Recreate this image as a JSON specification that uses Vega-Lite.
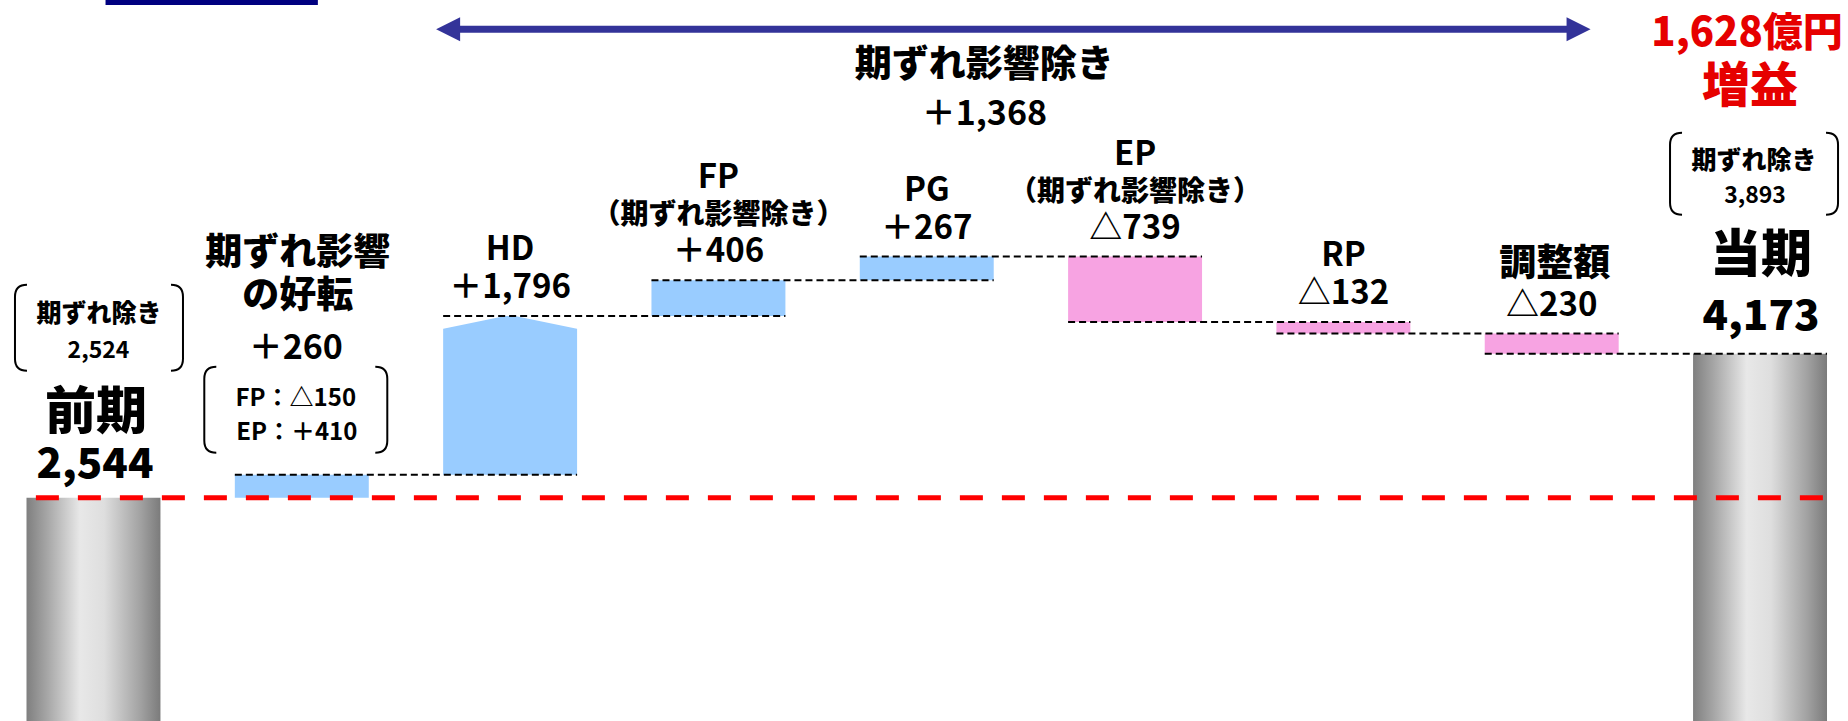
{
  "$schema": "https://vega.github.io/schema/vega-lite/v6.json",
  "width": 1848,
  "height": 721,
  "autosize": {"type": "none"},
  "padding": 0,
  "background": "white",
  "config": {"view": {"stroke": null}},
  "datasets": {
    "bars": [
      {"cat": "前期", "lo": 0, "hi": 2544, "kind": "base"},
      {"cat": "期ずれ影響の好転", "lo": 2544, "hi": 2804, "kind": "up"},
      {"cat": "HD", "lo": 2804, "hi": 4600, "kind": "up"},
      {"cat": "FP", "lo": 4600, "hi": 5006, "kind": "up"},
      {"cat": "PG", "lo": 5006, "hi": 5273, "kind": "up"},
      {"cat": "EP", "lo": 4534, "hi": 5273, "kind": "down"},
      {"cat": "RP", "lo": 4402, "hi": 4534, "kind": "down"},
      {"cat": "調整額", "lo": 4173, "hi": 4402, "kind": "down"},
      {"cat": "当期", "lo": 0, "hi": 4173, "kind": "base"}
    ],
    "links": [
      {"from": "期ずれ影響の好転", "to": "HD", "level": 2804},
      {"from": "HD", "to": "FP", "level": 4600},
      {"from": "FP", "to": "PG", "level": 5006},
      {"from": "PG", "to": "EP", "level": 5273},
      {"from": "EP", "to": "RP", "level": 4534},
      {"from": "RP", "to": "調整額", "level": 4402},
      {"from": "調整額", "to": "当期", "level": 4173}
    ],
    "base": [{"from": "前期", "to": "当期", "level": 2544}],
    "span": [{"from": "HD", "to": "調整額", "title": "期ずれ影響除き", "delta": "＋1,368"}],
    "labels": [
      {"cat": "HD", "role": "val", "text": "＋1,796"},
      {"cat": "FP", "role": "val", "text": "＋406"},
      {"cat": "PG", "role": "val", "text": "＋267"},
      {"cat": "EP", "role": "val", "text": "△739"},
      {"cat": "RP", "role": "val", "text": "△132"},
      {"cat": "調整額", "role": "val", "text": "△230"},
      {"cat": "HD", "role": "name", "text": "HD"},
      {"cat": "PG", "role": "name", "text": "PG"},
      {"cat": "RP", "role": "name", "text": "RP"},
      {"cat": "調整額", "role": "namej", "text": "調整額"},
      {"cat": "FP", "role": "sub", "text": "（期ずれ影響除き）"},
      {"cat": "EP", "role": "sub", "text": "（期ずれ影響除き）"},
      {"cat": "FP", "role": "name2", "text": "FP"},
      {"cat": "EP", "role": "name2", "text": "EP"},
      {"cat": "期ずれ影響の好転", "role": "title1", "text": "期ずれ影響"},
      {"cat": "期ずれ影響の好転", "role": "title2", "text": "の好転"},
      {"cat": "期ずれ影響の好転", "role": "delta", "text": "＋260"},
      {"cat": "期ずれ影響の好転", "role": "note1", "text": "FP：△150"},
      {"cat": "期ずれ影響の好転", "role": "note2", "text": "EP：＋410"},
      {"cat": "前期", "role": "total", "text": "2,544"},
      {"cat": "当期", "role": "total", "text": "4,173"},
      {"cat": "前期", "role": "period", "text": "前期"},
      {"cat": "当期", "role": "period", "text": "当期"},
      {"cat": "前期", "role": "exl", "text": "期ずれ除き"},
      {"cat": "当期", "role": "exl", "text": "期ずれ除き"},
      {"cat": "前期", "role": "exv", "text": "2,524"},
      {"cat": "当期", "role": "exv", "text": "3,893"},
      {"cat": "当期", "role": "gain1", "text": "1,628億円"},
      {"cat": "当期", "role": "gain2", "text": "増益"}
    ]
  },
  "layer": [
    {
      "data": {"name": "bars"},
      "transform": [{"filter": "datum.kind === 'base'"}],
      "mark": {"type": "bar", "stroke": null, "color": {"gradient": "linear", "x1": 0, "y1": 0, "x2": 1, "y2": 0, "stops": [{"offset": 0, "color": "#7f7f7f"}, {"offset": 0.15, "color": "#a5a5a5"}, {"offset": 0.4, "color": "#e8e8e8"}, {"offset": 0.58, "color": "#dedede"}, {"offset": 0.85, "color": "#a2a2a2"}, {"offset": 1, "color": "#7b7b7b"}]}},
      "encoding": {
        "x": {"field": "cat", "type": "nominal", "scale": {"type": "band", "domain": ["前期", "期ずれ影響の好転", "HD", "FP", "PG", "EP", "RP", "調整額", "当期"], "paddingInner": 0.357, "paddingOuter": 0.114, "align": 0.558}, "axis": null},
        "y": {"field": "lo", "type": "quantitative", "scale": {"domain": [20, 8175], "nice": false, "zero": false}, "axis": null},
        "y2": {"field": "hi"}
      }
    },
    {
      "data": {"name": "bars"},
      "transform": [{"filter": "datum.kind !== 'base'"}],
      "mark": {"type": "bar", "stroke": null},
      "encoding": {
        "x": {"field": "cat", "type": "nominal", "axis": null},
        "y": {"field": "lo", "type": "quantitative", "axis": null},
        "y2": {"field": "hi"},
        "color": {"field": "kind", "type": "nominal", "scale": {"domain": ["up", "down"], "range": ["#99CCFF", "#F7A3E2"]}, "legend": null}
      }
    },
    {
      "data": {"name": "bars"},
      "transform": [{"filter": "datum.cat === 'HD'"}],
      "mark": {"type": "point", "shape": "M-68,-1L0,-1L-68,13Z M68,-1L0,-1L68,13Z", "size": 4, "filled": true, "color": "white", "opacity": 1, "strokeWidth": 0},
      "encoding": {
        "x": {"field": "cat", "type": "nominal", "axis": null},
        "y": {"field": "hi", "type": "quantitative", "axis": null}
      }
    },
    {
      "data": {"name": "base"},
      "mark": {"type": "rule", "color": "#FF0000", "strokeWidth": 5, "strokeDash": [23, 19]},
      "encoding": {
        "x": {"field": "from", "type": "nominal", "bandPosition": 0.07, "axis": null},
        "x2": {"field": "to", "bandPosition": 0.98},
        "y": {"field": "level", "type": "quantitative", "axis": null}
      }
    },
    {
      "data": {"name": "links"},
      "mark": {"type": "rule", "color": "#000000", "strokeWidth": 2, "strokeDash": [7, 4]},
      "encoding": {
        "x": {"field": "from", "type": "nominal", "bandPosition": 0, "axis": null},
        "x2": {"field": "to", "bandPosition": 1},
        "y": {"field": "level", "type": "quantitative", "axis": null}
      }
    },
    {
      "data": {"name": "span"},
      "mark": {"type": "rule", "color": "#333399", "strokeWidth": 7},
      "encoding": {
        "x": {"field": "from", "type": "nominal", "bandPosition": 0.05, "axis": null},
        "x2": {"field": "to", "bandPosition": 0.7},
        "y": {"datum": 7844, "type": "quantitative", "axis": null}
      }
    },
    {
      "data": {"name": "span"},
      "mark": {"type": "point", "shape": "M-7,0L17,-12L17,12Z", "size": 4, "filled": true, "color": "#333399", "opacity": 1, "strokeWidth": 0},
      "encoding": {
        "x": {"field": "from", "type": "nominal", "bandPosition": 0, "axis": null},
        "y": {"datum": 7844, "type": "quantitative", "axis": null}
      }
    },
    {
      "data": {"name": "span"},
      "mark": {"type": "point", "shape": "M0,0L-24,-12L-24,12Z", "size": 4, "filled": true, "color": "#333399", "opacity": 1, "strokeWidth": 0},
      "encoding": {
        "x": {"field": "to", "type": "nominal", "bandPosition": 0.79, "axis": null},
        "y": {"datum": 7844, "type": "quantitative", "axis": null}
      }
    },
    {
      "data": {"name": "span"},
      "mark": {"type": "text", "font": "Noto Sans CJK JP", "fontSize": 37, "fontWeight": 900, "baseline": "alphabetic", "color": "#000000"},
      "encoding": {
        "x": {"datum": "PG", "type": "nominal", "bandPosition": 0.93, "axis": null},
        "y": {"datum": 7301, "type": "quantitative", "axis": null},
        "text": {"field": "title"}
      }
    },
    {
      "data": {"name": "span"},
      "mark": {"type": "text", "font": "Noto Sans CJK JP", "fontSize": 34, "fontWeight": "bold", "baseline": "alphabetic", "color": "#000000"},
      "encoding": {
        "x": {"datum": "PG", "type": "nominal", "bandPosition": 0.93, "axis": null},
        "y": {"datum": 6758, "type": "quantitative", "axis": null},
        "text": {"field": "delta"}
      }
    },
    {
      "data": {"name": "base"},
      "mark": {"type": "rule", "color": "#000080", "strokeWidth": 10},
      "encoding": {
        "x": {"field": "from", "type": "nominal", "bandPosition": 0.59, "axis": null},
        "x2": {"datum": "期ずれ影響の好転", "bandPosition": 0.62},
        "y": {"datum": 8175, "type": "quantitative", "axis": null}
      }
    },
    {
      "data": {"name": "bars"},
      "transform": [{"filter": "datum.kind === 'base' || datum.cat === '期ずれ影響の好転'"}],
      "mark": {"type": "point", "size": 4, "filled": false, "stroke": "#000000", "strokeWidth": 2, "opacity": 1},
      "encoding": {
        "x": {"field": "cat", "type": "nominal", "axis": null},
        "y": {"field": "hi", "type": "quantitative", "axis": null},
        "shape": {"field": "cat", "type": "nominal", "legend": null, "scale": {"domain": ["前期", "期ずれ影響の好転", "当期"], "range": ["M-66.5,-213Q-78.5,-213 -78.5,-201L-78.5,-139Q-78.5,-127 -66.5,-127M77.5,-213Q89.5,-213 89.5,-201L89.5,-139Q89.5,-127 77.5,-127", "M-85.5,-108Q-97.5,-108 -97.5,-96L-97.5,-34Q-97.5,-22 -85.5,-22M73.5,-108Q85.5,-108 85.5,-96L85.5,-34Q85.5,-22 73.5,-22", "M-78,-221Q-90,-221 -90,-209L-90,-151Q-90,-139 -78,-139M66,-221Q78,-221 78,-209L78,-151Q78,-139 66,-139"]}}
      }
    },
    {
      "data": {"name": "labels"},
      "transform": [{"filter": "datum.role === 'val'"}, {"lookup": "cat", "from": {"data": {"name": "bars"}, "key": "cat", "fields": ["hi"]}}],
      "mark": {"type": "text", "font": "Noto Sans CJK JP", "fontSize": 33, "fontWeight": "bold", "baseline": "alphabetic", "dy": -18, "color": "#000000"},
      "encoding": {"x": {"field": "cat", "type": "nominal", "axis": null}, "y": {"field": "hi", "type": "quantitative", "axis": null}, "text": {"field": "text"}}
    },
    {
      "data": {"name": "labels"},
      "transform": [{"filter": "datum.role === 'name'"}, {"lookup": "cat", "from": {"data": {"name": "bars"}, "key": "cat", "fields": ["hi"]}}],
      "mark": {"type": "text", "font": "Noto Sans CJK JP", "fontSize": 33, "fontWeight": "bold", "baseline": "alphabetic", "dy": -56, "color": "#000000"},
      "encoding": {"x": {"field": "cat", "type": "nominal", "axis": null}, "y": {"field": "hi", "type": "quantitative", "axis": null}, "text": {"field": "text"}}
    },
    {
      "data": {"name": "labels"},
      "transform": [{"filter": "datum.role === 'namej'"}, {"lookup": "cat", "from": {"data": {"name": "bars"}, "key": "cat", "fields": ["hi"]}}],
      "mark": {"type": "text", "font": "Noto Sans CJK JP", "fontSize": 37, "fontWeight": 900, "baseline": "alphabetic", "dy": -58, "dx": 3, "color": "#000000"},
      "encoding": {"x": {"field": "cat", "type": "nominal", "axis": null}, "y": {"field": "hi", "type": "quantitative", "axis": null}, "text": {"field": "text"}}
    },
    {
      "data": {"name": "labels"},
      "transform": [{"filter": "datum.role === 'sub'"}, {"lookup": "cat", "from": {"data": {"name": "bars"}, "key": "cat", "fields": ["hi"]}}],
      "mark": {"type": "text", "font": "Noto Sans CJK JP", "fontSize": 28, "fontWeight": 900, "baseline": "alphabetic", "dy": -56, "color": "#000000"},
      "encoding": {"x": {"field": "cat", "type": "nominal", "axis": null}, "y": {"field": "hi", "type": "quantitative", "axis": null}, "text": {"field": "text"}}
    },
    {
      "data": {"name": "labels"},
      "transform": [{"filter": "datum.role === 'name2'"}, {"lookup": "cat", "from": {"data": {"name": "bars"}, "key": "cat", "fields": ["hi"]}}],
      "mark": {"type": "text", "font": "Noto Sans CJK JP", "fontSize": 33, "fontWeight": "bold", "baseline": "alphabetic", "dy": -92, "color": "#000000"},
      "encoding": {"x": {"field": "cat", "type": "nominal", "axis": null}, "y": {"field": "hi", "type": "quantitative", "axis": null}, "text": {"field": "text"}}
    },
    {
      "data": {"name": "labels"},
      "transform": [{"filter": "datum.role === 'title1'"}, {"lookup": "cat", "from": {"data": {"name": "bars"}, "key": "cat", "fields": ["hi"]}}],
      "mark": {"type": "text", "font": "Noto Sans CJK JP", "fontSize": 37, "fontWeight": 900, "baseline": "alphabetic", "dy": -210, "dx": -4, "color": "#000000"},
      "encoding": {"x": {"field": "cat", "type": "nominal", "axis": null}, "y": {"field": "hi", "type": "quantitative", "axis": null}, "text": {"field": "text"}}
    },
    {
      "data": {"name": "labels"},
      "transform": [{"filter": "datum.role === 'title2'"}, {"lookup": "cat", "from": {"data": {"name": "bars"}, "key": "cat", "fields": ["hi"]}}],
      "mark": {"type": "text", "font": "Noto Sans CJK JP", "fontSize": 37, "fontWeight": 900, "baseline": "alphabetic", "dy": -167, "dx": -4, "color": "#000000"},
      "encoding": {"x": {"field": "cat", "type": "nominal", "axis": null}, "y": {"field": "hi", "type": "quantitative", "axis": null}, "text": {"field": "text"}}
    },
    {
      "data": {"name": "labels"},
      "transform": [{"filter": "datum.role === 'delta'"}, {"lookup": "cat", "from": {"data": {"name": "bars"}, "key": "cat", "fields": ["hi"]}}],
      "mark": {"type": "text", "font": "Noto Sans CJK JP", "fontSize": 34, "fontWeight": "bold", "baseline": "alphabetic", "dy": -116, "dx": -6, "color": "#000000"},
      "encoding": {"x": {"field": "cat", "type": "nominal", "axis": null}, "y": {"field": "hi", "type": "quantitative", "axis": null}, "text": {"field": "text"}}
    },
    {
      "data": {"name": "labels"},
      "transform": [{"filter": "datum.role === 'note1'"}, {"lookup": "cat", "from": {"data": {"name": "bars"}, "key": "cat", "fields": ["hi"]}}],
      "mark": {"type": "text", "font": "Noto Sans CJK JP", "fontSize": 24, "fontWeight": "bold", "baseline": "alphabetic", "dy": -69, "dx": -6, "color": "#000000"},
      "encoding": {"x": {"field": "cat", "type": "nominal", "axis": null}, "y": {"field": "hi", "type": "quantitative", "axis": null}, "text": {"field": "text"}}
    },
    {
      "data": {"name": "labels"},
      "transform": [{"filter": "datum.role === 'note2'"}, {"lookup": "cat", "from": {"data": {"name": "bars"}, "key": "cat", "fields": ["hi"]}}],
      "mark": {"type": "text", "font": "Noto Sans CJK JP", "fontSize": 24, "fontWeight": "bold", "baseline": "alphabetic", "dy": -35, "dx": -5, "color": "#000000"},
      "encoding": {"x": {"field": "cat", "type": "nominal", "axis": null}, "y": {"field": "hi", "type": "quantitative", "axis": null}, "text": {"field": "text"}}
    },
    {
      "data": {"name": "labels"},
      "transform": [{"filter": "datum.role === 'total' && datum.cat === '前期'"}, {"lookup": "cat", "from": {"data": {"name": "bars"}, "key": "cat", "fields": ["hi"]}}],
      "mark": {"type": "text", "font": "Noto Sans CJK JP", "fontSize": 42, "fontWeight": 900, "baseline": "alphabetic", "dy": -20, "dx": 1.5, "color": "#000000"},
      "encoding": {"x": {"field": "cat", "type": "nominal", "axis": null}, "y": {"field": "hi", "type": "quantitative", "axis": null}, "text": {"field": "text"}}
    },
    {
      "data": {"name": "labels"},
      "transform": [{"filter": "datum.role === 'total' && datum.cat === '当期'"}, {"lookup": "cat", "from": {"data": {"name": "bars"}, "key": "cat", "fields": ["hi"]}}],
      "mark": {"type": "text", "font": "Noto Sans CJK JP", "fontSize": 42, "fontWeight": 900, "baseline": "alphabetic", "dy": -24, "dx": 1, "color": "#000000"},
      "encoding": {"x": {"field": "cat", "type": "nominal", "axis": null}, "y": {"field": "hi", "type": "quantitative", "axis": null}, "text": {"field": "text"}}
    },
    {
      "data": {"name": "labels"},
      "transform": [{"filter": "datum.role === 'period' && datum.cat === '前期'"}, {"lookup": "cat", "from": {"data": {"name": "bars"}, "key": "cat", "fields": ["hi"]}}],
      "mark": {"type": "text", "font": "Noto Sans CJK JP", "fontSize": 51, "fontWeight": 900, "baseline": "alphabetic", "dy": -69, "dx": 2.5, "color": "#000000"},
      "encoding": {"x": {"field": "cat", "type": "nominal", "axis": null}, "y": {"field": "hi", "type": "quantitative", "axis": null}, "text": {"field": "text"}}
    },
    {
      "data": {"name": "labels"},
      "transform": [{"filter": "datum.role === 'period' && datum.cat === '当期'"}, {"lookup": "cat", "from": {"data": {"name": "bars"}, "key": "cat", "fields": ["hi"]}}],
      "mark": {"type": "text", "font": "Noto Sans CJK JP", "fontSize": 51, "fontWeight": 900, "baseline": "alphabetic", "dy": -82, "dx": 1, "color": "#000000"},
      "encoding": {"x": {"field": "cat", "type": "nominal", "axis": null}, "y": {"field": "hi", "type": "quantitative", "axis": null}, "text": {"field": "text"}}
    },
    {
      "data": {"name": "labels"},
      "transform": [{"filter": "datum.role === 'exl' && datum.cat === '前期'"}, {"lookup": "cat", "from": {"data": {"name": "bars"}, "key": "cat", "fields": ["hi"]}}],
      "mark": {"type": "text", "font": "Noto Sans CJK JP", "fontSize": 25, "fontWeight": 900, "baseline": "alphabetic", "dy": -176, "dx": 5.5, "color": "#000000"},
      "encoding": {"x": {"field": "cat", "type": "nominal", "axis": null}, "y": {"field": "hi", "type": "quantitative", "axis": null}, "text": {"field": "text"}}
    },
    {
      "data": {"name": "labels"},
      "transform": [{"filter": "datum.role === 'exl' && datum.cat === '当期'"}, {"lookup": "cat", "from": {"data": {"name": "bars"}, "key": "cat", "fields": ["hi"]}}],
      "mark": {"type": "text", "font": "Noto Sans CJK JP", "fontSize": 25, "fontWeight": 900, "baseline": "alphabetic", "dy": -185, "dx": -6, "color": "#000000"},
      "encoding": {"x": {"field": "cat", "type": "nominal", "axis": null}, "y": {"field": "hi", "type": "quantitative", "axis": null}, "text": {"field": "text"}}
    },
    {
      "data": {"name": "labels"},
      "transform": [{"filter": "datum.role === 'exv' && datum.cat === '前期'"}, {"lookup": "cat", "from": {"data": {"name": "bars"}, "key": "cat", "fields": ["hi"]}}],
      "mark": {"type": "text", "font": "Noto Sans CJK JP", "fontSize": 23, "fontWeight": "bold", "baseline": "alphabetic", "dy": -140, "dx": 5, "color": "#000000"},
      "encoding": {"x": {"field": "cat", "type": "nominal", "axis": null}, "y": {"field": "hi", "type": "quantitative", "axis": null}, "text": {"field": "text"}}
    },
    {
      "data": {"name": "labels"},
      "transform": [{"filter": "datum.role === 'exv' && datum.cat === '当期'"}, {"lookup": "cat", "from": {"data": {"name": "bars"}, "key": "cat", "fields": ["hi"]}}],
      "mark": {"type": "text", "font": "Noto Sans CJK JP", "fontSize": 23, "fontWeight": "bold", "baseline": "alphabetic", "dy": -151, "dx": -5, "color": "#000000"},
      "encoding": {"x": {"field": "cat", "type": "nominal", "axis": null}, "y": {"field": "hi", "type": "quantitative", "axis": null}, "text": {"field": "text"}}
    },
    {
      "data": {"name": "labels"},
      "transform": [{"filter": "datum.role === 'gain1'"}, {"lookup": "cat", "from": {"data": {"name": "bars"}, "key": "cat", "fields": ["hi"]}}],
      "mark": {"type": "text", "font": "Noto Sans CJK JP", "fontSize": 40, "fontWeight": 900, "baseline": "alphabetic", "dy": -308, "dx": -13, "color": "#E60000"},
      "encoding": {"x": {"field": "cat", "type": "nominal", "axis": null}, "y": {"field": "hi", "type": "quantitative", "axis": null}, "text": {"field": "text"}}
    },
    {
      "data": {"name": "labels"},
      "transform": [{"filter": "datum.role === 'gain2'"}, {"lookup": "cat", "from": {"data": {"name": "bars"}, "key": "cat", "fields": ["hi"]}}],
      "mark": {"type": "text", "font": "Noto Sans CJK JP", "fontSize": 48, "fontWeight": 900, "baseline": "alphabetic", "dy": -252, "dx": -10, "color": "#E60000"},
      "encoding": {"x": {"field": "cat", "type": "nominal", "axis": null}, "y": {"field": "hi", "type": "quantitative", "axis": null}, "text": {"field": "text"}}
    }
  ]
}
